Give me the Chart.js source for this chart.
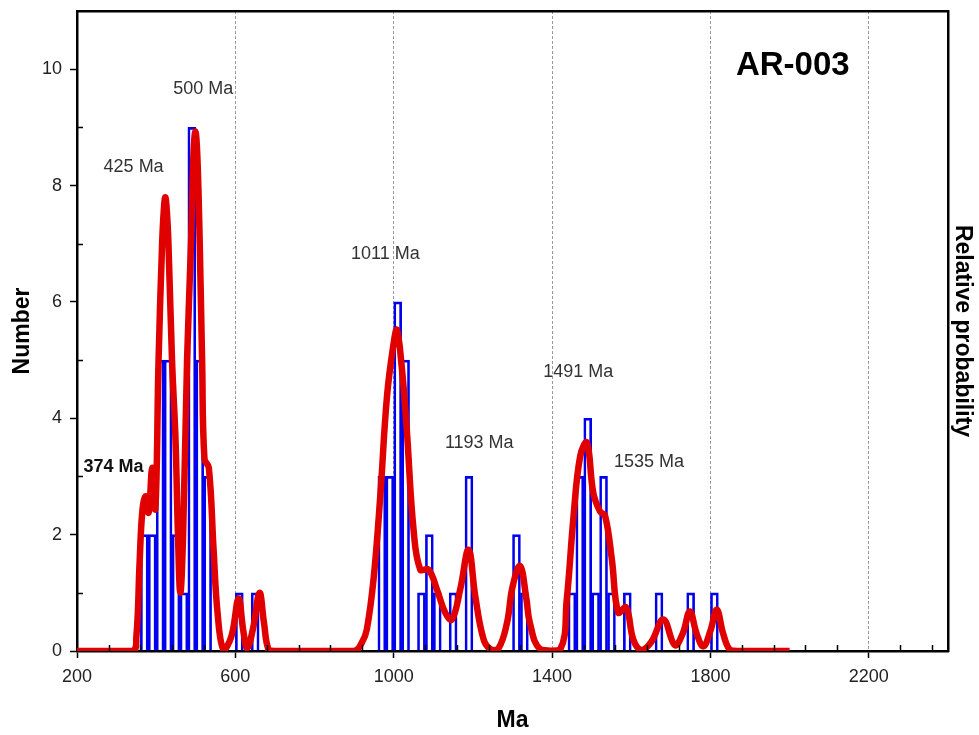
<!DOCTYPE html>
<html>
<head>
<meta charset="utf-8">
<script src="https://cdn.jsdelivr.net/npm/chart.js@4/dist/chart.umd.min.js"></script>
<style>
  html, body { margin: 0; padding: 0; background: #ffffff; }
  canvas { display: block; }
</style>
</head>
<body>
<canvas id="c" width="979" height="735"></canvas>
<script>
// ---------- data ----------
const BIN_WIDTH = 20;
const BIN_START = [360,380,400,420,440,460,480,500,520,600,640,
                   960,980,1000,1020,1060,1080,1100,1140,1180,1300,1320,
                   1440,1460,1480,1500,1520,1540,1580,1660,1740,1800];
const COUNTS    = [2,2,5,5,2,1,9,5,3,1,1,
                   3,3,6,5,1,2,1,1,3,2,1,
                   1,3,4,1,3,1,1,1,1,1];

const PDF_AGE = [200,340,350,358,365,373,381,390,398,406,415,419,423,427,431,440,449,455,461,468,478,488,494,499,504,510,516,522,533,545,555,570,590,608,620,630,645,661,672,684,700,
                 900,920,932,949,966,983,1000,1008,1020,1033,1050,1067,1088,1109,1130,1147,1168,1189,1206,1227,1245,1265,1286,1300,1319,1335,1344,1370,
                 1420,1437,1454,1471,1488,1504,1521,1534,1551,1567,1587,1605,1625,1650,1681,1710,1730,1748,1765,1782,1800,1816,1832,1849,1870,2000];
const PDF_VAL = [0,0,0.25,1.5,2.4,2.66,2.38,3.15,2.45,5.0,7.0,7.55,7.8,7.55,7.0,5.0,3.6,2.0,1.0,2.0,5.0,7.0,8.5,8.93,8.5,7.0,5.0,3.3,3.15,1.74,0.66,0.02,0.25,0.9,0.35,0.05,0.4,1.0,0.5,0.02,0,
                 0,0.15,0.37,1.23,2.66,4.38,5.3,5.52,4.9,3.8,2.09,1.4,1.4,1.06,0.66,0.54,1.06,1.74,0.94,0.2,0.03,0.05,0.48,1.1,1.46,0.9,0.48,0.03,
                 0.02,0.88,2.3,3.35,3.58,2.72,2.4,2.32,1.57,0.66,0.75,0.2,0.02,0.15,0.54,0.1,0.3,0.68,0.3,0.08,0.35,0.71,0.3,0.02,0,0];

const X_TICKS = [200,600,1000,1400,1800,2200];
const Y_TICKS = [0,2,4,6,8,10];
const X_MINOR = [280,360,440,520,680,760,840,920,1080,1160,1240,1320,1480,1560,1640,1720,1880,1960,2040,2120,2280,2360];
const Y_MINOR = [1,3,5,7,9];

const PEAK_TEXT = ['500 Ma','425 Ma','374 Ma','1011 Ma','1193 Ma','1491 Ma','1535 Ma'];
const PEAK_X    = [519, 343, 292, 979, 1216, 1466, 1645];
const PEAK_Y    = [9.66, 8.32, 3.16, 6.83, 3.57, 4.8, 3.24];
const PEAK_BOLD = [false,false,true,false,false,false,false];
const SAMPLE_NAME = 'AR-003';
const SAMPLE_AT = [2008, 10.06];

// ---------- plugins ----------
const minorTicks = {
  id: 'minorTicks',
  afterDraw(chart) {
    const {ctx, chartArea: a, scales} = chart;
    ctx.save();
    ctx.strokeStyle = '#000';
    ctx.lineWidth = 1.5;
    ctx.beginPath();
    X_MINOR.forEach(v => {
      const px = Math.round(scales.x.getPixelForValue(v)) + 0.5;
      ctx.moveTo(px, a.bottom); ctx.lineTo(px, a.bottom - 6);
    });
    Y_MINOR.forEach(v => {
      const py = Math.round(scales.y.getPixelForValue(v)) + 0.5;
      ctx.moveTo(a.left, py); ctx.lineTo(a.left + 6, py);
    });
    ctx.stroke();
    ctx.restore();
  }
};

const peakLabels = {
  id: 'peakLabels',
  afterDraw(chart) {
    const {ctx, scales} = chart;
    ctx.save();
    ctx.textAlign = 'center';
    ctx.textBaseline = 'middle';
    PEAK_TEXT.forEach((t, i) => {
      ctx.font = (PEAK_BOLD[i] ? 'bold ' : '') + "18px 'Liberation Sans', Arial, sans-serif";
      ctx.fillStyle = PEAK_BOLD[i] ? '#111' : '#333';
      ctx.fillText(t, scales.x.getPixelForValue(PEAK_X[i]), scales.y.getPixelForValue(PEAK_Y[i]));
    });
    ctx.font = "bold 33px 'Liberation Sans', Arial, sans-serif";
    ctx.fillStyle = '#000';
    ctx.fillText(SAMPLE_NAME, scales.x.getPixelForValue(SAMPLE_AT[0]), scales.y.getPixelForValue(SAMPLE_AT[1]));
    ctx.restore();
  }
};

// ---------- chart ----------
Chart.defaults.font.family = "'Liberation Sans', Arial, sans-serif";
const tickFont = { family: "'Liberation Sans', Arial, sans-serif", size: 18 };
const titleFont = { family: "'Liberation Sans', Arial, sans-serif", size: 23, weight: 'bold' };
const noPad = s => { s.paddingTop = 0; s.paddingBottom = 0; s.paddingLeft = 0; s.paddingRight = 0; };

new Chart(document.getElementById('c'), {
  type: 'bar',
  data: {
    datasets: [
      {
        type: 'line',
        label: 'Relative probability',
        data: PDF_AGE.map((a, i) => ({x: a, y: PDF_VAL[i]})),
        borderColor: '#e00000',
        borderWidth: 6.5,
        pointRadius: 0,
        fill: false,
        tension: 0.4,
        order: 0,
        yAxisID: 'y'
      },
      {
        type: 'bar',
        label: 'Number',
        data: BIN_START.map((s, i) => ({x: s + BIN_WIDTH / 2, y: COUNTS[i]})),
        borderColor: '#0000ee',
        backgroundColor: 'rgba(255,255,255,0)',
        borderWidth: 2,
        barPercentage: 1,
        categoryPercentage: 1,
        order: 1,
        yAxisID: 'y'
      }
    ]
  },
  options: {
    responsive: false,
    animation: false,
    devicePixelRatio: 1,
    layout: { padding: 0 },
    plugins: { legend: { display: false }, tooltip: { enabled: false } },
    scales: {
      x: {
        type: 'linear', position: 'bottom', min: 200, max: 2400, offset: false,
        afterBuildTicks: s => { s.ticks = X_TICKS.map(v => ({value: v})); },
        afterFit: s => { s.height = 84; noPad(s); },
        ticks: { font: tickFont, color: '#222', padding: 8, maxRotation: 0, autoSkip: false,
                 callback: v => String(v) },
        grid: {
          offset: false,
          color: c => (c.tick && c.tick.value === 200) ? 'rgba(0,0,0,0)' : '#9a9a9a',
          lineWidth: 1,
          tickColor: '#000',
          tickLength: 7,
          tickBorderDash: [],
          tickWidth: 1.5
        },
        border: { display: true, color: '#000', width: 2.5, dash: [3, 2] },
        title: { display: true, text: 'Ma', font: titleFont, color: '#000', padding: { top: 0, bottom: 1 } }
      },
      xTop: {
        type: 'linear', position: 'top', min: 200, max: 2400, offset: false,
        afterFit: s => { s.height = 11; noPad(s); },
        ticks: { display: false },
        grid: { display: true, drawOnChartArea: false, drawTicks: false },
        border: { display: true, color: '#000', width: 2.5 }
      },
      y: {
        type: 'linear', position: 'left', min: 0, max: 11,
        afterBuildTicks: s => { s.ticks = Y_TICKS.map(v => ({value: v})); },
        afterFit: s => { s.width = 77; noPad(s); },
        ticks: { font: tickFont, color: '#222', padding: 8, callback: v => String(v) },
        grid: { drawOnChartArea: false, tickColor: '#000', tickLength: 7, tickWidth: 1.5 },
        border: { display: true, color: '#000', width: 2.5 },
        title: { display: true, text: 'Number', font: titleFont, color: '#000', padding: { top: 9, bottom: 0 } }
      },
      y2: {
        type: 'linear', position: 'right', min: 0, max: 11,
        afterFit: s => { s.width = 31; noPad(s); },
        ticks: { display: false },
        grid: { display: true, drawOnChartArea: false, drawTicks: false },
        border: { display: true, color: '#000', width: 2.5 },
        title: { display: true, text: 'Relative probability', font: titleFont, color: '#000', padding: { top: 3, bottom: 0 } }
      }
    }
  },
  plugins: [minorTicks, peakLabels]
});
</script>
</body>
</html>
